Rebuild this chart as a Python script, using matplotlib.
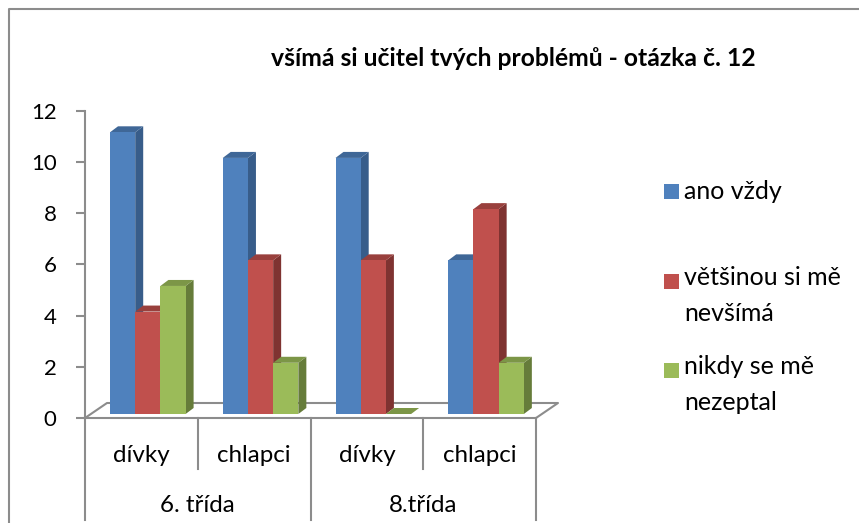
import matplotlib
matplotlib.use("Agg")
import matplotlib.pyplot as plt
from matplotlib.lines import Line2D
from matplotlib.patches import Rectangle
from matplotlib.transforms import Affine2D

plt.rcParams['font.family'] = ['Lato', 'DejaVu Sans']

title = "všímá si učitel tvých problémů - otázka č. 12"
categories = ["dívky", "chlapci", "dívky", "chlapci"]
groups = ["6. třída", "8.třída"]
series_names = ["ano vždy", "většinou si mě\nnevšímá", "nikdy se mě\nnezeptal"]
ano_vzdy = [11, 10, 10, 6]
vetsinou = [4, 6, 6, 8]
nikdy = [5, 2, 0, 2]
yticks = [0, 2, 4, 6, 8, 10, 12]

front = ["#4F81BD", "#C0504D", "#9BBB59"]
side = ["#385D8A", "#7F3331", "#667C3A"]
top = ["#3F6797", "#99403D", "#7C9647"]
GRAY = "#8C8C8C"

W, H = 859, 523
fig = plt.figure(figsize=(W / 100, H / 100), dpi=100)
L, R, T, B = 85, 536, 110.7, 418
ax = fig.add_axes([L / W, 1 - B / H, (R - L) / W, (B - T) / H])
ax.set_xlim(0, 4)
ax.set_ylim(0, 12)
ax.patch.set_visible(False)
px_x = 4 / (R - L)
px_y = 12 / (B - T)

for s in ("top", "right"):
    ax.spines[s].set_visible(False)
for s in ("left", "bottom"):
    ax.spines[s].set_color(GRAY)
    ax.spines[s].set_linewidth(1.5)
ax.set_yticks(yticks)
ax.tick_params(axis="y", length=6.5, width=1.5, color=GRAY, labelsize=16, pad=14)
ax.set_xticks([])

# floor
fx, fy = 22 * px_x, 15 * px_y
ax.plot([0, fx, 4 + fx, 4], [0, fy, fy, 0], color=GRAY, lw=1.5, clip_on=False, zorder=1)

# bars
shift = ax.transData + Affine2D().translate(0, 4)
bw = 25.2 * px_x
dx, dy = 8 * px_x, 6 * px_y
lead = 25 * px_x
for s, vals in enumerate([ano_vzdy, vetsinou, nikdy]):
    for c, v in enumerate(vals):
        x0 = c + lead + s * bw
        z = 3 + s
        if v > 0:
            ax.bar(x0, v, bw, align="edge", color=front[s], transform=shift, zorder=z + .2, clip_on=False)
            ax.fill([x0 + bw, x0 + bw + dx, x0 + bw + dx, x0 + bw],
                    [0, dy, v + dy, v], color=side[s], lw=0, transform=shift, zorder=z, clip_on=False)
        ax.fill([x0, x0 + bw, x0 + bw + dx, x0 + dx],
                [v, v, v + dy, v + dy], color=top[s], lw=0, transform=shift, zorder=z + .1, clip_on=False)

# multi-level category axis
short = 51 * px_y
long_ = 102 * px_y
for i in range(5):
    ax.plot([i, i], [0, -(long_ if i % 2 == 0 else short)], color=GRAY, lw=1.5, clip_on=False)
for i, c in enumerate(categories):
    ax.text(i + .5, -37 * px_y, c, ha="center", va="center", fontsize=17.4, clip_on=False)
for i, g in enumerate(groups):
    ax.text(2 * i + 1, -87 * px_y, g, ha="center", va="center", fontsize=17.4, clip_on=False)

fig.text(513 / W, 1 - 58 / H, title, ha="center", va="center", fontsize=17.85, fontweight="bold")

# chart frame
fig.add_artist(Line2D([9 / W, 9 / W, 1], [0, 1 - 9 / H, 1 - 9 / H], color=GRAY, lw=1.5))

# legend, one swatch per series, aligned with the first line of its label
legend_rows = [199, 288.5, 378]
line_px = 32.5
for name, colour, base in zip(series_names, front, legend_rows):
    fig.add_artist(Rectangle((664 / W, 1 - base / H), 15 / W, 15 / H, color=colour, lw=0,
                             transform=fig.transFigure))
    last_line = base + line_px * name.count("\n")
    fig.text(684 / W, 1 - last_line / H, name, ha="left", va="baseline", fontsize=18, linespacing=1.7)

fig.savefig("out.png", dpi=100)
